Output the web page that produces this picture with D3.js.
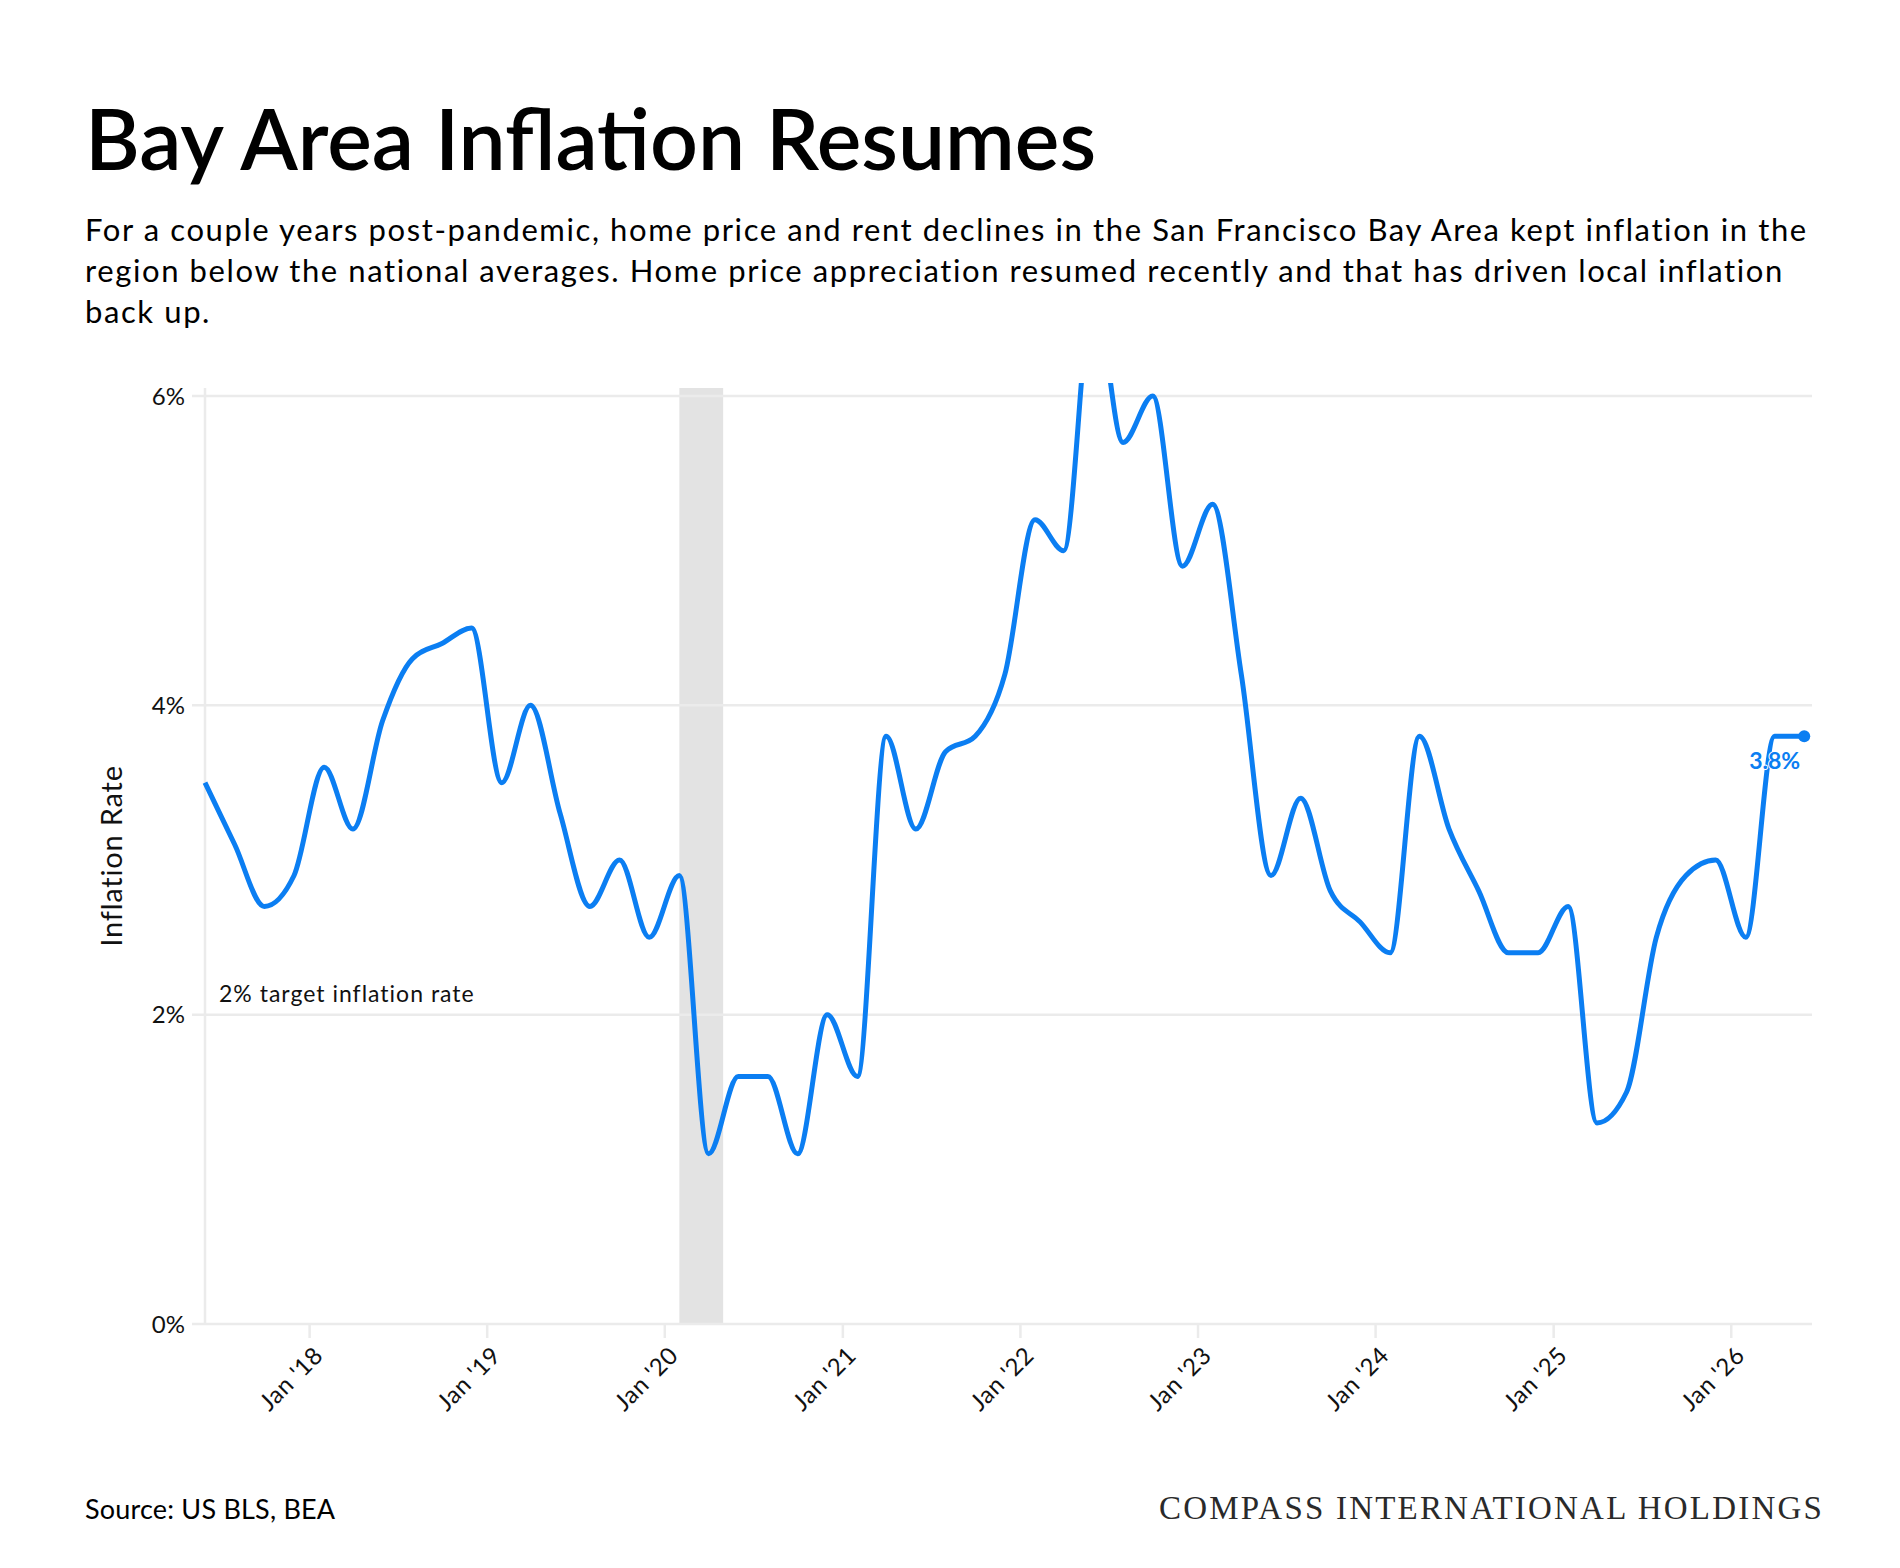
<!DOCTYPE html>
<html>
<head>
<meta charset="utf-8">
<script src="https://cdn.jsdelivr.net/npm/d3@7"></script>
<style>
  body { margin: 0; background: #fff; }
  svg { display: block; font-family: Lato, "Noto Sans", sans-serif; }
</style>
</head>
<body>
<script>
// bi-monthly readings, Jun 2017 .. Jun 2026
var months = [
  '2017-06','2017-08','2017-10','2017-12',
  '2018-02','2018-04','2018-06','2018-08','2018-10','2018-12',
  '2019-02','2019-04','2019-06','2019-08','2019-10','2019-12',
  '2020-02','2020-04','2020-06','2020-08','2020-10','2020-12',
  '2021-02','2021-04','2021-06','2021-08','2021-10','2021-12',
  '2022-02','2022-04','2022-06','2022-08','2022-10','2022-12',
  '2023-02','2023-04','2023-06','2023-08','2023-10','2023-12',
  '2024-02','2024-04','2024-06','2024-08','2024-10','2024-12',
  '2025-02','2025-04','2025-06','2025-08','2025-10','2025-12',
  '2026-02','2026-04','2026-06'
];
var rates = [
  3.5, 3.1, 2.7, 2.9,
  3.6, 3.2, 3.9, 4.3, 4.4, 4.5,
  3.5, 4.0, 3.3, 2.7, 3.0, 2.5,
  2.9, 1.1, 1.6, 1.6, 1.1, 2.0,
  1.6, 3.8, 3.2, 3.7, 3.8, 4.2,
  5.2, 5.0, 6.7, 5.7, 6.0, 4.9,
  5.3, 4.2, 2.9, 3.4, 2.8, 2.6,
  2.4, 3.8, 3.2, 2.8, 2.4, 2.4,
  2.7, 1.3, 1.5, 2.5, 2.9, 3.0,
  2.5, 3.8, 3.8
];
var yTicks = [0, 2, 4, 6];
var xTickYears = [2018, 2019, 2020, 2021, 2022, 2023, 2024, 2025, 2026];
var recession = ['2020-02', '2020-05'];

var title = 'Bay Area Inflation Resumes';
var subtitle = [
  'For a couple years post-pandemic, home price and rent declines in the San Francisco Bay Area kept inflation in the',
  'region below the national averages. Home price appreciation resumed recently and that has driven local inflation',
  'back up.'
];
var source = 'Source: US BLS, BEA';
var brand = 'COMPASS INTERNATIONAL HOLDINGS';
var targetNote = '2% target inflation rate';

var W = 1900, H = 1568;
var plotLeft = 205, plotRight = 1812, plotTop = 388, plotBottom = 1324;
var blue = '#0b7ef2', grid = '#ebebeb';

var parse = d3.timeParse('%Y-%m');
var data = months.map(function(m, i){ return {date: parse(m), value: rates[i]}; });

var svg = d3.select('body').append('svg')
    .attr('width', W)
    .attr('height', H);

svg.append('text')
    .attr('x', 85).attr('y', 170)
    .attr('font-size', 84).attr('font-weight', 600)
    .attr('fill', '#000')
    .text(title);

svg.append('g').selectAll('text').data(subtitle).join('text')
    .attr('x', 85)
    .attr('y', function(d, i){ return 241 + i * 41; })
    .attr('font-size', 31)
    .attr('letter-spacing', 1.6)
    .attr('fill', '#000')
    .text(function(d){ return d; });

var x = d3.scaleTime()
    .domain([parse('2017-06'), new Date(2026, 5, 17)])
    .range([plotLeft, plotRight]);
var y = d3.scaleLinear().domain([0, 6]).range([plotBottom, 396]);

// recession band
svg.append('rect')
    .attr('x', x(parse(recession[0])))
    .attr('width', x(parse(recession[1])) - x(parse(recession[0])))
    .attr('y', plotTop)
    .attr('height', plotBottom - plotTop)
    .attr('fill', '#e3e3e3');

// horizontal grid
svg.append('g').selectAll('line').data(yTicks).join('line')
    .attr('x1', plotLeft - 13).attr('x2', plotRight)
    .attr('y1', function(d){ return y(d); })
    .attr('y2', function(d){ return y(d); })
    .attr('stroke', grid).attr('stroke-width', 2.5);

svg.append('line')
    .attr('x1', plotLeft).attr('x2', plotLeft)
    .attr('y1', plotTop).attr('y2', plotBottom)
    .attr('stroke', grid).attr('stroke-width', 2.5);

svg.append('g').selectAll('text').data(yTicks).join('text')
    .attr('x', 185)
    .attr('y', function(d){ return y(d); })
    .attr('dy', '0.36em')
    .attr('text-anchor', 'end')
    .attr('font-size', 24)
    .attr('fill', '#111')
    .text(function(d){ return d + '%'; });

svg.append('text')
    .attr('transform', 'translate(122,856) rotate(-90)')
    .attr('text-anchor', 'middle')
    .attr('font-size', 29)
    .attr('letter-spacing', 0.8)
    .attr('fill', '#111')
    .text('Inflation Rate');

// x axis
var xAxis = d3.axisBottom(x)
    .tickValues(xTickYears.map(function(yr){ return new Date(yr, 0, 1); }))
    .tickFormat(d3.timeFormat("Jan '%y"))
    .tickSize(13)
    .tickPadding(0);

var gx = svg.append('g')
    .attr('transform', 'translate(0,' + (plotBottom + 1) + ')')
    .call(xAxis);
gx.select('.domain').remove();
gx.selectAll('.tick line').attr('stroke', grid).attr('stroke-width', 2.5);
gx.selectAll('.tick text')
    .attr('font-family', 'Lato, "Noto Sans", sans-serif')
    .attr('font-size', 24)
    .attr('letter-spacing', 0.6)
    .attr('fill', '#111')
    .attr('text-anchor', 'end')
    .attr('dy', null)
    .attr('y', null)
    .attr('transform', 'translate(15,32) rotate(-45)');

svg.append('text')
    .attr('x', 219).attr('y', 1002)
    .attr('font-size', 23)
    .attr('letter-spacing', 1)
    .attr('fill', '#111')
    .text(targetNote);

// line
svg.append('clipPath').attr('id', 'plot-clip')
  .append('rect')
    .attr('x', plotLeft - 10).attr('y', 383)
    .attr('width', plotRight - plotLeft + 20).attr('height', plotBottom - 383 + 10);

var line = d3.line()
    .x(function(d){ return x(d.date); })
    .y(function(d){ return y(d.value); })
    .curve(d3.curveMonotoneX);

svg.append('path')
    .datum(data)
    .attr('clip-path', 'url(#plot-clip)')
    .attr('d', line)
    .attr('fill', 'none')
    .attr('stroke', blue)
    .attr('stroke-width', 5)
    .attr('stroke-linejoin', 'round');

var last = data[data.length - 1];
svg.append('circle')
    .attr('cx', x(last.date)).attr('cy', y(last.value))
    .attr('r', 6)
    .attr('fill', blue);

svg.append('text')
    .attr('x', x(last.date) - 4)
    .attr('y', y(last.value) + 33)
    .attr('text-anchor', 'end')
    .attr('font-size', 23)
    .attr('font-weight', 700)
    .attr('fill', blue)
    .attr('stroke', '#fff')
    .attr('stroke-width', 2)
    .attr('paint-order', 'stroke')
    .text(last.value.toFixed(1) + '%');

// footer
svg.append('text')
    .attr('x', 85).attr('y', 1519)
    .attr('font-size', 27)
    .attr('letter-spacing', 0.2)
    .attr('fill', '#000')
    .text(source);

svg.append('text')
    .attr('x', 1824).attr('y', 1519)
    .attr('text-anchor', 'end')
    .attr('font-family', '"Liberation Serif", "DejaVu Serif", serif')
    .attr('font-size', 33)
    .attr('letter-spacing', 2.2)
    .attr('fill', '#2a2a2a')
    .text(brand);
</script>
</body>
</html>
